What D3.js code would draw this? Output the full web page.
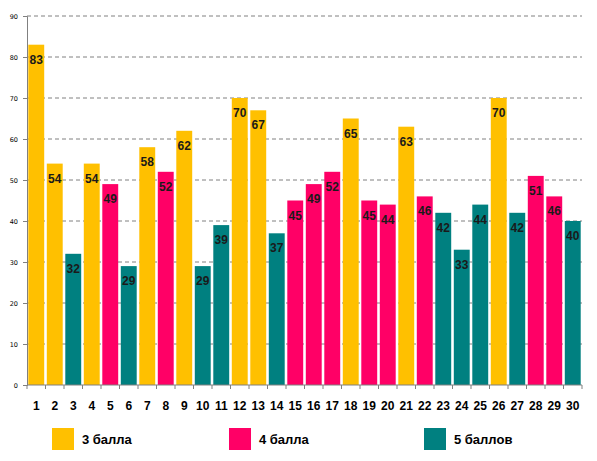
<!DOCTYPE html>
<html>
<head>
<meta charset="utf-8">
<script src="https://cdn.jsdelivr.net/npm/d3@7"></script>
<style>
    body { margin: 0; background: #fff; }
    svg { display: block; }
</style>
</head>
<body>
<div id="chart"></div>
<script>
"use strict";

// values per student number, and which group each bar belongs to
var categories = ["1","2","3","4","5","6","7","8","9","10","11","12","13","14","15",
    "16","17","18","19","20","21","22","23","24","25","26","27","28","29","30"];
var values = [83, 54, 32, 54, 49, 29, 58, 52, 62, 29, 39, 70, 67, 37, 45,
    49, 52, 65, 45, 44, 63, 46, 42, 33, 44, 70, 42, 51, 46, 40];
var groups = ["3","3","5","3","4","5","3","4","3","5","5","3","3","5","4",
    "4","4","3","4","4","3","4","5","5","5","3","5","4","4","5"];
var groupKeys = ["3", "4", "5"];
var groupLabels = ["3 балла", "4 балла", "5 баллов"];
var yTicks = [0, 10, 20, 30, 40, 50, 60, 70, 80, 90];

var colors = { "3": "#FFC000", "4": "#FF0066", "5": "#008080" };
var labelFont = "Tahoma, 'Liberation Sans', Arial, sans-serif";

var width = 597, height = 461;
var margin = { left: 27, right: 15, top: 16, bottom: 76 };

var svg = d3.select("#chart").append("svg")
    .attr("width", width)
    .attr("height", height);

var x = d3.scaleBand()
    .domain(categories)
    .range([margin.left, width - margin.right])
    .paddingInner(0.14)
    .paddingOuter(0.07);

var y = d3.scaleLinear()
    .domain([0, 90])
    .range([height - margin.bottom, margin.top]);

// dashed gridlines
svg.append("g")
    .selectAll("line")
    .data(yTicks.slice(1))
    .enter()
    .append("line")
    .attr("x1", margin.left)
    .attr("x2", width - margin.right)
    .attr("y1", function (d) { return y(d); })
    .attr("y2", function (d) { return y(d); })
    .attr("stroke", "#808080")
    .attr("stroke-width", 1)
    .attr("stroke-dasharray", "4,3");

// y axis
var yAxis = svg.append("g")
    .attr("transform", "translate(" + margin.left + ",0)")
    .call(d3.axisLeft(y).tickValues(yTicks).tickSize(4).tickPadding(5));
yAxis.select(".domain").attr("stroke", "#808080");
yAxis.selectAll(".tick line").attr("stroke", "#808080");
yAxis.selectAll("text")
    .attr("font-family", "Verdana, 'DejaVu Sans', sans-serif")
    .attr("font-size", 6.5)
    .attr("fill", "#000");

// bars
svg.append("g")
    .selectAll("rect")
    .data(values)
    .enter()
    .append("rect")
    .attr("x", function (d, i) { return x(categories[i]); })
    .attr("y", function (d) { return y(d); })
    .attr("width", x.bandwidth())
    .attr("height", function (d) { return y(0) - y(d); })
    .attr("fill", function (d, i) { return colors[groups[i]]; });

// value labels inside the top of each bar
svg.append("g")
    .selectAll("text")
    .data(values)
    .enter()
    .append("text")
    .attr("x", function (d, i) { return x(categories[i]) + x.bandwidth() / 2; })
    .attr("y", function (d) { return y(d) + 19; })
    .attr("text-anchor", "middle")
    .attr("font-family", labelFont)
    .attr("font-weight", "bold")
    .attr("font-size", 12)
    .attr("fill", "#1a1a1a")
    .text(function (d) { return d; });

// x axis: ticks sit between categories
var x0 = y(0);
var xAxis = svg.append("g");
xAxis.append("line")
    .attr("x1", margin.left)
    .attr("x2", width - margin.right)
    .attr("y1", x0)
    .attr("y2", x0)
    .attr("stroke", "#808080");
var step = x.step();
var start = x.range()[0];
xAxis.selectAll("line.tk")
    .data(d3.range(categories.length + 1))
    .enter()
    .append("line")
    .attr("class", "tk")
    .attr("x1", function (i) { return start + i * step; })
    .attr("x2", function (i) { return start + i * step; })
    .attr("y1", x0)
    .attr("y2", x0 + 4)
    .attr("stroke", "#808080");
xAxis.selectAll("text")
    .data(categories)
    .enter()
    .append("text")
    .attr("x", function (d) { return x(d) + x.bandwidth() / 2; })
    .attr("y", x0 + 25)
    .attr("text-anchor", "middle")
    .attr("font-family", labelFont)
    .attr("font-weight", "bold")
    .attr("font-size", 12)
    .attr("fill", "#000")
    .text(function (d) { return d; });

// legend
var legendX = [52, 229, 424];
var legend = svg.append("g")
    .selectAll("g")
    .data(groupKeys)
    .enter()
    .append("g")
    .attr("transform", function (d, i) { return "translate(" + legendX[i] + ",428)"; });
legend.append("rect")
    .attr("width", 22)
    .attr("height", 22)
    .attr("fill", function (d) { return colors[d]; });
legend.append("text")
    .attr("x", 30)
    .attr("y", 16)
    .attr("font-family", labelFont)
    .attr("font-weight", "bold")
    .attr("font-size", 13)
    .attr("fill", "#000")
    .text(function (d, i) { return groupLabels[i]; });
</script>
</body>
</html>
